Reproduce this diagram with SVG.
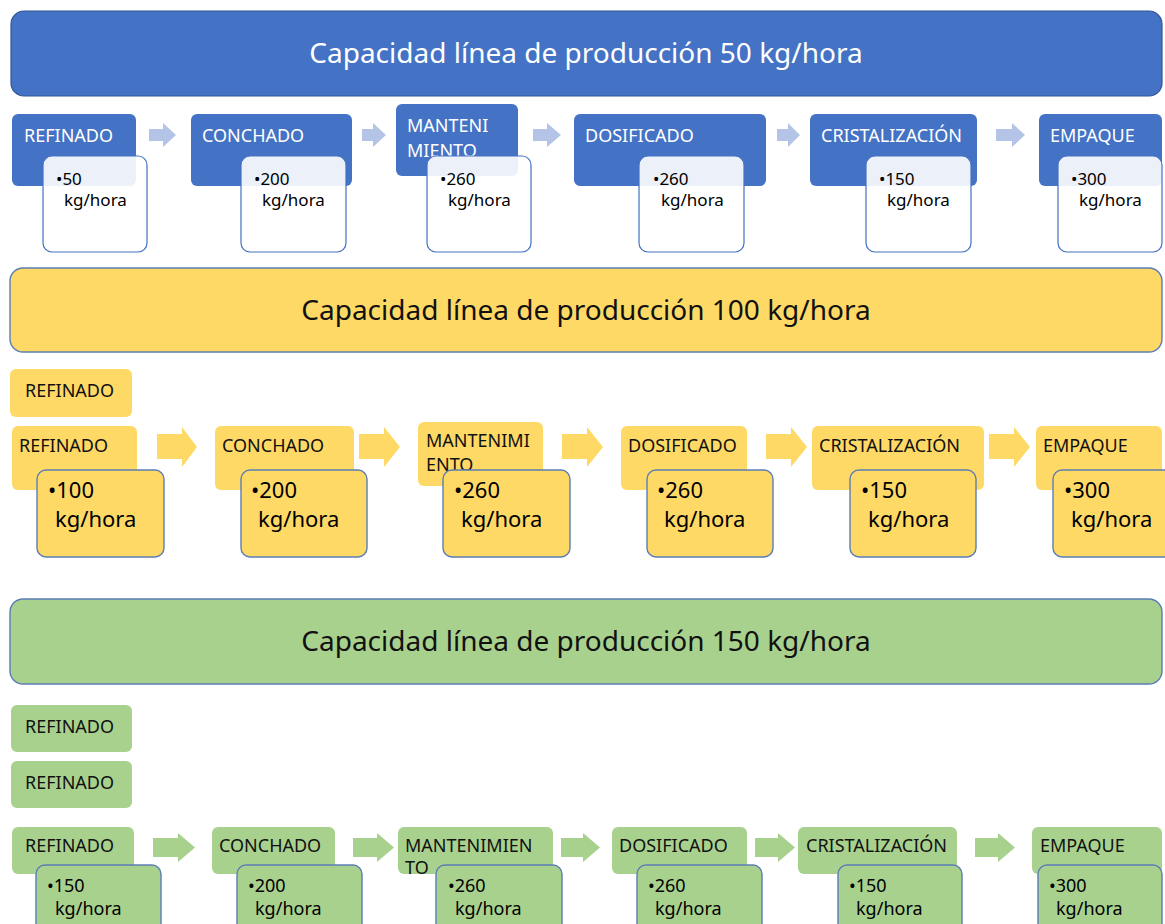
<svg xmlns="http://www.w3.org/2000/svg" width="1165" height="924" viewBox="0 0 1165 924">
<style>
text{font-family:"Noto Sans","Open Sans","Liberation Sans",sans-serif}
.title{font-size:28px;text-anchor:middle}
.lbl{font-size:18px}
.w{fill:#ffffff}
.k{fill:#111111}
.b1{fill:#4472C4}
.s1{fill:#ffffff;fill-opacity:0.9;stroke:#4472C4;stroke-width:1.2}
.t1{font-size:17px;fill:#000}
.b2{fill:#FFD966}
.s2{fill:#FFD966;stroke:#5B7DB5;stroke-width:1.4}
.t2{font-size:22px;fill:#000}
.b3{fill:#A9D18E}
.s3{fill:#A9D18E;stroke:#5B7DB5;stroke-width:1.4}
.t3{font-size:18px;fill:#000}
.a1{fill:#B4C4E6}
.a2{fill:#FFD966}
.a3{fill:#A9D18E}
</style>

<!-- Titles -->
<g id="title-50">
<rect x="11" y="11" width="1151" height="85" rx="13" fill="#4472C4" stroke="#2F5597" stroke-width="1.2"/>
<text class="title w" x="586" y="63">Capacidad línea de producción 50 kg/hora</text>
</g>
<g id="title-100">
<rect x="10" y="268" width="1152" height="84" rx="13" fill="#FFD966" stroke="#5B7DB5" stroke-width="1.4"/>
<text class="title k" x="586" y="320">Capacidad línea de producción 100 kg/hora</text>
</g>
<g id="title-150">
<rect x="10" y="599" width="1152" height="85" rx="13" fill="#A9D18E" stroke="#5B7DB5" stroke-width="1.4"/>
<text class="title k" x="586" y="651">Capacidad línea de producción 150 kg/hora</text>
</g>

<!-- Connectors -->
<g id="connectors">
<polygon class="a1" points="149,129 163,129 163,123 176,135 163,147 163,141 149,141"/>
<polygon class="a1" points="362,129 373,129 373,123 386,135 373,147 373,141 362,141"/>
<polygon class="a1" points="533,129 547,129 547,123 561,135 547,147 547,141 533,141"/>
<polygon class="a1" points="777,129 788,129 788,123 800,135 788,147 788,141 777,141"/>
<polygon class="a1" points="996,129 1012,129 1012,123 1025,135 1012,147 1012,141 996,141"/>

<polygon class="a2" points="157,434 182,434 182,427 197,447 182,467 182,459 157,459"/>
<polygon class="a2" points="359,434 384,434 384,427 400,447 384,467 384,459 359,459"/>
<polygon class="a2" points="562,434 587,434 587,427 603,447 587,467 587,459 562,459"/>
<polygon class="a2" points="766,434 791,434 791,427 807,447 791,467 791,459 766,459"/>
<polygon class="a2" points="989,434 1014,434 1014,427 1030,447 1014,467 1014,459 989,459"/>

<polygon class="a3" points="153,838 178,838 178,833 195,847.5 178,862 178,857 153,857"/>
<polygon class="a3" points="353,838 377,838 377,833 394,847.5 377,862 377,857 353,857"/>
<polygon class="a3" points="561,838 583,838 583,833 600,847.5 583,862 583,857 561,857"/>
<polygon class="a3" points="755,838 778,838 778,833 795,847.5 778,862 778,857 755,857"/>
<polygon class="a3" points="975,838 998,838 998,833 1015,847.5 998,862 998,857 975,857"/>
</g>

<!-- Row 1 (50 kg/hora) -->
<g id="r1-refinado">
<rect class="b1" x="12" y="114" width="124" height="72" rx="6"/>
<text class="lbl w" x="24" y="142">REFINADO</text>
<rect class="s1" x="43" y="156" width="104" height="96" rx="9"/>
<text class="t1" x="56" y="185">•50</text>
<text class="t1" x="64" y="206">kg/hora</text>
</g>
<g id="r1-conchado">
<rect class="b1" x="191" y="114" width="161" height="72" rx="6"/>
<text class="lbl w" x="202" y="142">CONCHADO</text>
<rect class="s1" x="241" y="156" width="105" height="96" rx="9"/>
<text class="t1" x="254" y="185">•200</text>
<text class="t1" x="262" y="206">kg/hora</text>
</g>
<g id="r1-mantenimiento">
<rect class="b1" x="396" y="104" width="122" height="72" rx="6"/>
<text class="lbl w" x="407" y="132">MANTENI</text>
<text class="lbl w" x="407" y="157">MIENTO</text>
<rect class="s1" x="427" y="156" width="104" height="96" rx="9"/>
<text class="t1" x="440" y="185">•260</text>
<text class="t1" x="448" y="206">kg/hora</text>
</g>
<g id="r1-dosificado">
<rect class="b1" x="574" y="114" width="192" height="72" rx="6"/>
<text class="lbl w" x="585" y="142">DOSIFICADO</text>
<rect class="s1" x="639" y="156" width="105" height="96" rx="9"/>
<text class="t1" x="653" y="185">•260</text>
<text class="t1" x="661" y="206">kg/hora</text>
</g>
<g id="r1-cristalizacion">
<rect class="b1" x="810" y="114" width="167" height="72" rx="6"/>
<text class="lbl w" x="821" y="142">CRISTALIZACIÓN</text>
<rect class="s1" x="866" y="156" width="105" height="96" rx="9"/>
<text class="t1" x="879" y="185">•150</text>
<text class="t1" x="887" y="206">kg/hora</text>
</g>
<g id="r1-empaque">
<rect class="b1" x="1039" y="114" width="123" height="72" rx="6"/>
<text class="lbl w" x="1050" y="142">EMPAQUE</text>
<rect class="s1" x="1058" y="156" width="104" height="96" rx="9"/>
<text class="t1" x="1071" y="185">•300</text>
<text class="t1" x="1079" y="206">kg/hora</text>
</g>

<!-- Row 2 (100 kg/hora) -->
<g id="r2-refinado-extra">
<rect class="b2" x="10" y="369" width="122" height="48" rx="6"/>
<text class="lbl k" x="25" y="397">REFINADO</text>
</g>
<g id="r2-refinado">
<rect class="b2" x="12" y="426" width="125" height="64" rx="6"/>
<text class="lbl k" x="19" y="452">REFINADO</text>
<rect class="s2" x="37" y="470" width="127" height="87" rx="9"/>
<text class="t2" x="48" y="498">•100</text>
<text class="t2" x="55" y="527">kg/hora</text>
</g>
<g id="r2-conchado">
<rect class="b2" x="215" y="426" width="139" height="64" rx="6"/>
<text class="lbl k" x="222" y="452">CONCHADO</text>
<rect class="s2" x="241" y="470" width="126" height="87" rx="9"/>
<text class="t2" x="251" y="498">•200</text>
<text class="t2" x="258" y="527">kg/hora</text>
</g>
<g id="r2-mantenimiento">
<rect class="b2" x="418" y="422" width="125" height="64" rx="6"/>
<text class="lbl k" x="426" y="447">MANTENIMI</text>
<text class="lbl k" x="426" y="471">ENTO</text>
<rect class="s2" x="443" y="470" width="127" height="87" rx="9"/>
<text class="t2" x="454" y="498">•260</text>
<text class="t2" x="461" y="527">kg/hora</text>
</g>
<g id="r2-dosificado">
<rect class="b2" x="621" y="426" width="126" height="64" rx="6"/>
<text class="lbl k" x="628" y="452">DOSIFICADO</text>
<rect class="s2" x="647" y="470" width="126" height="87" rx="9"/>
<text class="t2" x="657" y="498">•260</text>
<text class="t2" x="664" y="527">kg/hora</text>
</g>
<g id="r2-cristalizacion">
<rect class="b2" x="812" y="426" width="172" height="64" rx="6"/>
<text class="lbl k" x="819" y="452">CRISTALIZACIÓN</text>
<rect class="s2" x="850" y="470" width="126" height="87" rx="9"/>
<text class="t2" x="861" y="498">•150</text>
<text class="t2" x="868" y="527">kg/hora</text>
</g>
<g id="r2-empaque">
<rect class="b2" x="1036" y="426" width="126" height="64" rx="6"/>
<text class="lbl k" x="1043" y="452">EMPAQUE</text>
<rect class="s2" x="1053" y="470" width="126" height="87" rx="9"/>
<text class="t2" x="1064" y="498">•300</text>
<text class="t2" x="1071" y="527">kg/hora</text>
</g>

<!-- Row 3 (150 kg/hora) -->
<g id="r3-refinado-extra-1">
<rect class="b3" x="11" y="705" width="121" height="47" rx="6"/>
<text class="lbl k" x="25" y="733">REFINADO</text>
</g>
<g id="r3-refinado-extra-2">
<rect class="b3" x="11" y="761" width="121" height="47" rx="6"/>
<text class="lbl k" x="25" y="789">REFINADO</text>
</g>
<g id="r3-refinado">
<rect class="b3" x="12" y="827" width="122" height="47" rx="6"/>
<text class="lbl k" x="25" y="852">REFINADO</text>
<rect class="s3" x="36" y="865" width="125" height="80" rx="9"/>
<text class="t3" x="47" y="892">•150</text>
<text class="t3" x="55" y="915">kg/hora</text>
</g>
<g id="r3-conchado">
<rect class="b3" x="212" y="827" width="123" height="47" rx="6"/>
<text class="lbl k" x="219" y="852">CONCHADO</text>
<rect class="s3" x="237" y="865" width="125" height="80" rx="9"/>
<text class="t3" x="248" y="892">•200</text>
<text class="t3" x="255" y="915">kg/hora</text>
</g>
<g id="r3-mantenimiento">
<rect class="b3" x="398" y="827" width="155" height="47" rx="6"/>
<text class="lbl k" x="405" y="852">MANTENIMIEN</text>
<text class="lbl k" x="405" y="874">TO</text>
<rect class="s3" x="436" y="865" width="126" height="80" rx="9"/>
<text class="t3" x="448" y="892">•260</text>
<text class="t3" x="455" y="915">kg/hora</text>
</g>
<g id="r3-dosificado">
<rect class="b3" x="612" y="827" width="135" height="47" rx="6"/>
<text class="lbl k" x="619" y="852">DOSIFICADO</text>
<rect class="s3" x="637" y="865" width="125" height="80" rx="9"/>
<text class="t3" x="648" y="892">•260</text>
<text class="t3" x="655" y="915">kg/hora</text>
</g>
<g id="r3-cristalizacion">
<rect class="b3" x="798" y="827" width="159" height="47" rx="6"/>
<text class="lbl k" x="806" y="852">CRISTALIZACIÓN</text>
<rect class="s3" x="838" y="865" width="124" height="80" rx="9"/>
<text class="t3" x="849" y="892">•150</text>
<text class="t3" x="856" y="915">kg/hora</text>
</g>
<g id="r3-empaque">
<rect class="b3" x="1032" y="827" width="130" height="47" rx="6"/>
<text class="lbl k" x="1040" y="852">EMPAQUE</text>
<rect class="s3" x="1038" y="865" width="124" height="80" rx="9"/>
<text class="t3" x="1049" y="892">•300</text>
<text class="t3" x="1056" y="915">kg/hora</text>
</g>
</svg>
